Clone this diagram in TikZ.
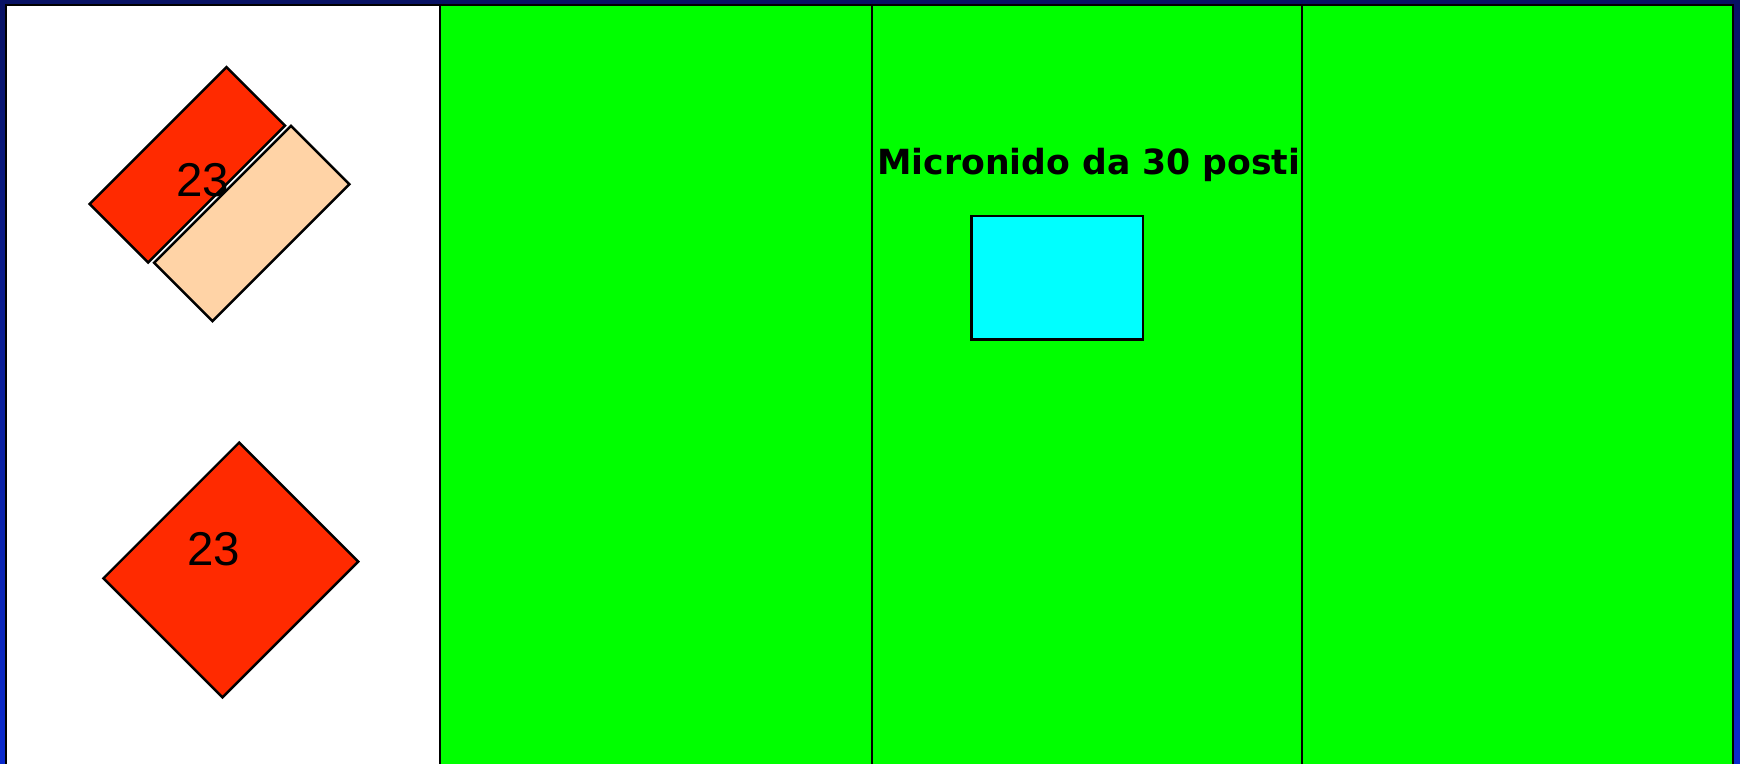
\documentclass[tikz,border=0pt]{standalone}
\usepackage{fontspec}
\setmainfont{Liberation Sans}
\newfontfamily\titlefont{DejaVu Sans}
\usepackage{xcolor}
\usetikzlibrary{calc, positioning}
\definecolor{lawn}{RGB}{0,255,0}
\definecolor{flag}{RGB}{255,42,0}
\definecolor{peach}{RGB}{255,211,166}
\definecolor{pool}{RGB}{0,255,255}
\definecolor{navytop}{RGB}{8,18,100}
\definecolor{navybot}{RGB}{10,42,205}

\begin{document}
\begin{tikzpicture}[x=0.01cm, y=-0.01cm, line width=0.7pt,
  zone/.style={draw=black},
  tile/.style={draw, rotate=45, inner sep=0pt},
  num/.style={inner sep=0pt, font=\fontsize{13.5}{14}\selectfont}]
\useasboundingbox (0,0) rectangle (1740,763);
\shade[top color=navytop, bottom color=navybot] (0,0) rectangle (1740,763);
\draw[zone, fill=white] (6,5) rectangle (440,770);
\draw[zone, fill=lawn] (440,5) rectangle (872,770);
\draw[zone, fill=lawn] (872,5) rectangle (1302,770);
\draw[zone, fill=lawn] (1302,5) rectangle (1733,770);
\node[tile, fill=flag, minimum width=1.935cm, minimum height=0.828cm] (T1) at (187.3,164.8) {};
\node[tile, fill=peach, minimum width=1.935cm, minimum height=0.826cm] (T2) at (251.7,223.5) {};
\node[tile, fill=flag, minimum width=1.919cm, minimum height=1.683cm] (T3) at (230.8,570) {};
\node[num] (N1) at (202.5,180) {23};
\node[num] (N3) at (213.8,549.2) {23};
\node[draw, fill=pool, inner sep=0pt, minimum width=1.71cm, minimum height=1.233cm] (box) at (1057.2,277.7) {};
\node[anchor=base, inner sep=0pt, font=\titlefont\bfseries\fontsize{9.85}{12}\selectfont] (title) at (1088.8,174) {Micronido da 30 posti};
\end{tikzpicture}
\end{document}
